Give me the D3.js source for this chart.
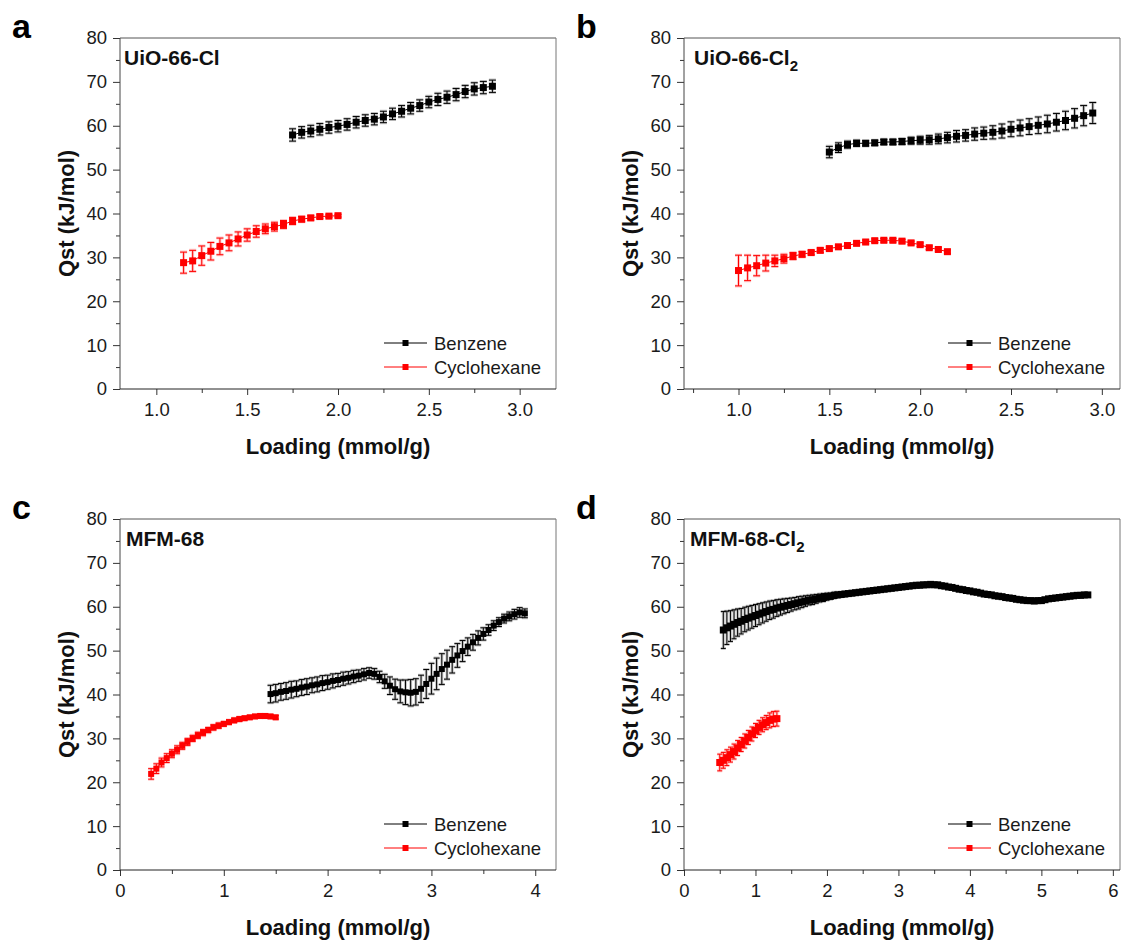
<!DOCTYPE html>
<html>
<head>
<meta charset="utf-8">
<script src="https://cdn.jsdelivr.net/npm/d3@7"></script>
<style>
  body { margin: 0; background: #fff; }
  svg text { font-family: "Liberation Sans", Arial, sans-serif; }
</style>
</head>
<body>
<svg id="chart" width="1124" height="942"></svg>
<script>
// ---- data ----
const yTicks = [0, 10, 20, 30, 40, 50, 60, 70, 80];
const yMinor = [5, 15, 25, 35, 45, 55, 65, 75];

// a: UiO-66-Cl
const aBenzX = [1.75,1.80,1.85,1.90,1.95,2.00,2.05,2.10,2.15,2.20,2.25,2.30,2.35,2.40,2.45,2.50,2.55,2.60,2.65,2.70,2.75,2.80,2.85];
const aBenzY = [57.9,58.5,58.8,59.2,59.6,59.9,60.3,60.8,61.2,61.5,62.0,62.7,63.3,64.0,64.6,65.4,66.0,66.5,67.1,67.8,68.4,68.7,69.0];
const aBenzErr = [1.4,1.3,1.3,1.3,1.3,1.3,1.3,1.3,1.3,1.3,1.3,1.3,1.3,1.3,1.3,1.3,1.4,1.4,1.4,1.4,1.4,1.4,1.4];
const aCycX = [1.15,1.20,1.25,1.30,1.35,1.40,1.45,1.50,1.55,1.60,1.65,1.70,1.75,1.80,1.85,1.90,1.95,2.00];
const aCycY = [28.8,29.2,30.4,31.4,32.5,33.3,34.2,35.1,35.9,36.5,37.0,37.5,38.3,38.7,39.0,39.3,39.4,39.5];
const aCycErr = [2.4,2.4,2.2,2.0,1.9,1.8,1.6,1.4,1.3,1.1,1.0,0.9,0.8,0.6,0.5,0.4,0.3,0.3];

// b: UiO-66-Cl2
const bBenzX = [1.50,1.55,1.60,1.65,1.70,1.75,1.80,1.85,1.90,1.95,2.00,2.05,2.10,2.15,2.20,2.25,2.30,2.35,2.40,2.45,2.50,2.55,2.60,2.65,2.70,2.75,2.80,2.85,2.90,2.95];
const bBenzY = [54.0,55.0,55.7,56.0,56.0,56.1,56.3,56.3,56.4,56.6,56.7,56.8,57.0,57.3,57.6,57.8,58.1,58.3,58.5,58.8,59.2,59.5,59.8,60.1,60.4,60.8,61.2,61.7,62.3,62.9];
const bBenzErr = [1.3,1.1,0.8,0.7,0.6,0.6,0.6,0.6,0.7,0.8,0.9,1.0,1.1,1.2,1.3,1.3,1.4,1.4,1.5,1.6,1.7,1.8,1.8,1.9,2.0,2.0,2.1,2.2,2.3,2.4];
const bCycX = [1.00,1.05,1.10,1.15,1.20,1.25,1.30,1.35,1.40,1.45,1.50,1.55,1.60,1.65,1.70,1.75,1.80,1.85,1.90,1.95,2.00,2.05,2.10,2.15];
const bCycY = [27.0,27.6,28.1,28.7,29.2,29.7,30.3,30.7,31.1,31.6,32.0,32.4,32.7,33.2,33.5,33.8,33.9,33.9,33.7,33.3,32.9,32.2,31.8,31.3];
const bCycErr = [3.5,2.9,2.3,1.8,1.3,1.0,0.8,0.6,0.5,0.5,0.4,0.4,0.4,0.4,0.4,0.4,0.4,0.4,0.4,0.4,0.4,0.4,0.4,0.4];

// c: MFM-68
const cBenzX = [1.45,1.50,1.55,1.60,1.65,1.70,1.75,1.80,1.85,1.90,1.95,2.00,2.05,2.10,2.15,2.20,2.25,2.30,2.35,2.40,
  2.45,2.50,2.55,2.60,2.65,2.70,2.75,2.80,2.85,2.90,2.95,3.00,3.05,3.10,3.15,3.20,3.25,3.30,3.35,3.40,
  3.45,3.50,3.55,3.60,3.65,3.70,3.75,3.80,3.85,3.90];
const cBenzY = [40.1,40.3,40.6,40.8,41.1,41.3,41.6,41.8,42.1,42.3,42.6,42.8,43.1,43.3,43.6,43.8,44.1,44.3,44.6,44.9,
  44.7,44.0,43.0,42.0,41.2,40.7,40.5,40.4,40.6,41.3,42.4,43.6,44.7,45.8,46.8,47.9,48.9,49.9,50.9,51.9,
  52.9,53.8,54.7,55.7,56.5,57.3,57.8,58.3,58.7,58.5];
const cBenzErr = [2.0,2.0,1.9,1.9,1.9,1.8,1.8,1.8,1.7,1.7,1.7,1.6,1.6,1.5,1.5,1.4,1.4,1.3,1.3,1.2,
  1.2,1.3,1.6,2.0,2.3,2.6,2.8,3.0,3.0,3.1,3.3,3.5,3.6,3.5,3.3,3.0,2.7,2.4,2.0,1.8,
  1.6,1.4,1.2,1.1,1.0,1.0,1.0,1.1,1.1,1.0];
const cCycX = [0.30,0.35,0.40,0.45,0.50,0.55,0.60,0.65,0.70,0.75,0.80,0.85,0.90,0.95,1.00,1.05,1.10,1.15,1.20,1.25,1.30,1.35,1.40,1.45,1.50];
const cCycY = [21.9,23.1,24.5,25.5,26.5,27.4,28.3,29.2,30.0,30.7,31.3,31.9,32.5,32.9,33.3,33.7,34.1,34.4,34.6,34.8,35.0,35.1,35.1,35.0,34.8];
const cCycErr = [1.2,1.1,1.0,1.0,0.9,0.9,0.8,0.8,0.7,0.7,0.7,0.6,0.6,0.6,0.5,0.5,0.5,0.5,0.4,0.4,0.4,0.4,0.4,0.4,0.4];

// d: MFM-68-Cl2
const dBenzX = [0.55,0.60,0.65,0.70,0.75,0.80,0.85,0.90,0.95,1.00,
  1.05,1.10,1.15,1.20,1.25,1.30,1.35,1.40,1.45,1.50,
  1.55,1.60,1.65,1.70,1.75,1.80,1.85,1.90,1.95,2.00,
  2.05,2.10,2.15,2.20,2.25,2.30,2.35,2.40,2.45,2.50,
  2.55,2.60,2.65,2.70,2.75,2.80,2.85,2.90,2.95,3.00,
  3.05,3.10,3.15,3.20,3.25,3.30,3.35,3.40,3.45,3.50,
  3.55,3.60,3.65,3.70,3.75,3.80,3.85,3.90,3.95,4.00,
  4.05,4.10,4.15,4.20,4.25,4.30,4.35,4.40,4.45,4.50,
  4.55,4.60,4.65,4.70,4.75,4.80,4.85,4.90,4.95,5.00,
  5.05,5.10,5.15,5.20,5.25,5.30,5.35,5.40,5.45,5.50,
  5.55,5.60,5.65];
const dBenzY = [54.7,55.2,55.6,56.0,56.4,56.7,57.1,57.4,57.7,58.0,
  58.3,58.6,58.9,59.2,59.4,59.7,59.9,60.1,60.3,60.5,
  60.7,60.9,61.1,61.3,61.5,61.6,61.8,62.0,62.1,62.3,
  62.4,62.6,62.7,62.8,62.9,63.0,63.1,63.2,63.3,63.4,
  63.5,63.6,63.7,63.8,63.9,64.0,64.1,64.2,64.3,64.4,
  64.5,64.6,64.7,64.8,64.9,64.9,65.0,65.0,65.1,65.0,
  65.0,64.8,64.7,64.5,64.4,64.2,64.0,63.9,63.7,63.6,
  63.4,63.3,63.1,62.9,62.8,62.7,62.5,62.4,62.3,62.1,
  62.0,61.9,61.7,61.6,61.5,61.4,61.4,61.3,61.4,61.4,
  61.6,61.8,61.9,62.0,62.1,62.2,62.3,62.4,62.5,62.6,
  62.6,62.7,62.7];
const dBenzErr = [4.2,3.8,3.5,3.3,3.1,2.9,2.8,2.7,2.6,2.5,
  2.4,2.3,2.2,2.1,2.0,1.9,1.8,1.7,1.6,1.5,
  1.4,1.4,1.3,1.2,1.1,1.1,1.0,0.9,0.9,0.8,
  0.7,0.7,0.6,0.5,0.5,0.4,0.4,0.3,0.3,0.3,
  0.2,0.2,0.2,0.2,0.2,0.2,0.2,0.2,0.2,0.2,
  0.2,0.2,0.2,0.2,0.2,0.2,0.2,0.2,0.2,0.2,
  0.2,0.2,0.2,0.2,0.2,0.2,0.2,0.2,0.2,0.2,
  0.2,0.2,0.2,0.2,0.2,0.2,0.2,0.2,0.2,0.2,
  0.2,0.2,0.2,0.2,0.2,0.2,0.2,0.2,0.2,0.2,
  0.2,0.2,0.2,0.2,0.2,0.2,0.2,0.2,0.2,0.2,
  0.2,0.2,0.2];
const dCycX = [0.50,0.55,0.60,0.65,0.70,0.75,0.80,0.85,0.90,0.95,1.00,1.05,1.10,1.15,1.20,1.25,1.30];
const dCycY = [24.5,25.0,25.6,26.3,27.0,27.8,28.6,29.4,30.2,31.0,31.8,32.5,33.1,33.6,34.1,34.4,34.5];
const dCycErr = [1.9,1.8,1.8,1.7,1.7,1.7,1.6,1.6,1.6,1.6,1.6,1.6,1.6,1.6,1.7,1.7,1.7];

const legendNames = ['Benzene', 'Cyclohexane'];
const colors = ['#000000', '#ff0000'];

// ---- layout ----
const panels = [
  { letter: 'a', title: 'UiO-66-Cl', sub: '', left: 120, right: 556, top: 38, bottom: 389, titleDx: 4,
    xDomain: [0.8, 3.2], xTicks: [1.0, 1.5, 2.0, 2.5, 3.0], xMinor: [1.25, 1.75, 2.25, 2.75], fmt: d3.format('.1f'),
    ms: 7, cap: 3.5,
    series: [[aBenzX, aBenzY, aBenzErr], [aCycX, aCycY, aCycErr]] },
  { letter: 'b', title: 'UiO-66-Cl', sub: '2', left: 684, right: 1120, top: 38, bottom: 389, titleDx: 10,
    xDomain: [0.7, 3.1], xTicks: [1.0, 1.5, 2.0, 2.5, 3.0], xMinor: [0.75, 1.25, 1.75, 2.25, 2.75], fmt: d3.format('.1f'),
    ms: 7, cap: 3.5,
    series: [[bBenzX, bBenzY, bBenzErr], [bCycX, bCycY, bCycErr]] },
  { letter: 'c', title: 'MFM-68', sub: '', left: 120, right: 556, top: 519, bottom: 870, titleDx: 6,
    xDomain: [0, 4.2], xTicks: [0, 1, 2, 3, 4], xMinor: [0.5, 1.5, 2.5, 3.5], fmt: d3.format('d'),
    ms: 6, cap: 3,
    series: [[cBenzX, cBenzY, cBenzErr], [cCycX, cCycY, cCycErr]] },
  { letter: 'd', title: 'MFM-68-Cl', sub: '2', left: 684, right: 1120, top: 519, bottom: 870, titleDx: 6,
    xDomain: [0, 6.1], xTicks: [0, 1, 2, 3, 4, 5, 6], xMinor: [0.5, 1.5, 2.5, 3.5, 4.5, 5.5], fmt: d3.format('d'),
    ms: 7, cap: 2.5,
    series: [[dBenzX, dBenzY, dBenzErr], [dCycX, dCycY, dCycErr]] }
];

const svg = d3.select('#chart');
svg.append('rect').attr('width', 1124).attr('height', 942).attr('fill', '#fff');

function styleAxis(sel) {
  sel.select('.domain').remove();
  sel.selectAll('line').attr('stroke', '#333');
  sel.selectAll('text').attr('font-size', 18.5).attr('fill', '#1a1a1a')
    .attr('font-family', '"Liberation Sans", Arial, sans-serif');
}

function drawPanel(p) {
  const x = d3.scaleLinear().domain(p.xDomain).range([p.left, p.right]);
  const y = d3.scaleLinear().domain([0, 80]).range([p.bottom, p.top]);
  const g = svg.append('g');

  // y axis ticks
  g.append('g').attr('transform', `translate(${p.left},0)`)
    .call(d3.axisLeft(y).tickValues(yTicks).tickSize(7).tickPadding(6).tickFormat(d3.format('d')))
    .call(styleAxis);
  g.append('g').attr('transform', `translate(${p.left},0)`)
    .call(d3.axisLeft(y).tickValues(yMinor).tickSize(4).tickFormat(''))
    .call(styleAxis);

  // x axis ticks
  g.append('g').attr('transform', `translate(0,${p.bottom})`)
    .call(d3.axisBottom(x).tickValues(p.xTicks).tickSize(6).tickPadding(8).tickFormat(p.fmt))
    .call(styleAxis);
  g.append('g').attr('transform', `translate(0,${p.bottom})`)
    .call(d3.axisBottom(x).tickValues(p.xMinor).tickSize(4).tickFormat(''))
    .call(styleAxis);

  // frame
  g.append('line').attr('x1', p.left).attr('x2', p.right).attr('y1', p.top).attr('y2', p.top).attr('stroke', '#555');
  g.append('line').attr('x1', p.right).attr('x2', p.right).attr('y1', p.top).attr('y2', p.bottom).attr('stroke', '#777');
  g.append('line').attr('x1', p.left).attr('x2', p.left).attr('y1', p.top).attr('y2', p.bottom).attr('stroke', '#444');
  g.append('line').attr('x1', p.left).attr('x2', p.right).attr('y1', p.bottom).attr('y2', p.bottom).attr('stroke', '#222');

  // series
  p.series.forEach((s, k) => {
    const col = colors[k];
    const pts = s[0].map((v, i) => ({ x: v, y: s[1][i], e: s[2][i] }));
    const barPath = d => {
      const cx = x(d.x), y1 = y(d.y + d.e), y2 = y(d.y - d.e), c = p.cap;
      return `M${cx - c},${y1}H${cx + c}M${cx},${y1}V${y2}M${cx - c},${y2}H${cx + c}`;
    };
    // soft halo under the error bars
    g.append('g').selectAll('path').data(pts).join('path')
      .attr('d', barPath).attr('fill', 'none')
      .attr('stroke', col).attr('stroke-opacity', 0.22).attr('stroke-width', 3);
    g.append('g').selectAll('path').data(pts).join('path')
      .attr('d', barPath).attr('fill', 'none')
      .attr('stroke', col).attr('stroke-width', 1);
    g.append('path').datum(pts)
      .attr('d', d3.line().x(d => x(d.x)).y(d => y(d.y)))
      .attr('fill', 'none').attr('stroke', col).attr('stroke-width', 1);
    g.append('g').selectAll('rect').data(pts).join('rect')
      .attr('x', d => x(d.x) - p.ms / 2).attr('y', d => y(d.y) - p.ms / 2)
      .attr('width', p.ms).attr('height', p.ms).attr('fill', col);
  });

  // legend
  legendNames.forEach((name, k) => {
    const ly = p.bottom - 46 + k * 24;
    const lx = p.right - 172;
    g.append('line').attr('x1', lx).attr('x2', lx + 43).attr('y1', ly).attr('y2', ly)
      .attr('stroke', colors[k]).attr('stroke-width', 1);
    g.append('rect').attr('x', lx + 18.5).attr('y', ly - 3).attr('width', 6).attr('height', 6).attr('fill', colors[k]);
    g.append('text').attr('x', lx + 50).attr('y', ly + 6.5).attr('font-size', 18.5).attr('fill', '#1a1a1a').text(name);
  });

  // inset title
  const t = g.append('text').attr('x', p.left + p.titleDx).attr('y', p.top + 27)
    .attr('font-size', 21).attr('font-weight', 'bold').attr('fill', '#111').text(p.title);
  if (p.sub) t.append('tspan').attr('dy', 6).attr('font-size', 15).text(p.sub);

  // axis titles
  g.append('text').attr('x', (p.left + p.right) / 2).attr('y', p.bottom + 65)
    .attr('text-anchor', 'middle').attr('font-size', 22).attr('font-weight', 'bold').attr('fill', '#111')
    .text('Loading (mmol/g)');
  g.append('text')
    .attr('transform', `translate(${p.left - 46},${(p.top + p.bottom) / 2}) rotate(-90)`)
    .attr('text-anchor', 'middle').attr('font-size', 22).attr('font-weight', 'bold').attr('fill', '#111')
    .text('Qst (kJ/mol)');

  // panel letter
  svg.append('text').attr('x', p.left - 108).attr('y', p.top)
    .attr('font-size', 34).attr('font-weight', 'bold').attr('fill', '#000').text(p.letter);
}

panels.forEach(drawPanel);
</script>
</body>
</html>
